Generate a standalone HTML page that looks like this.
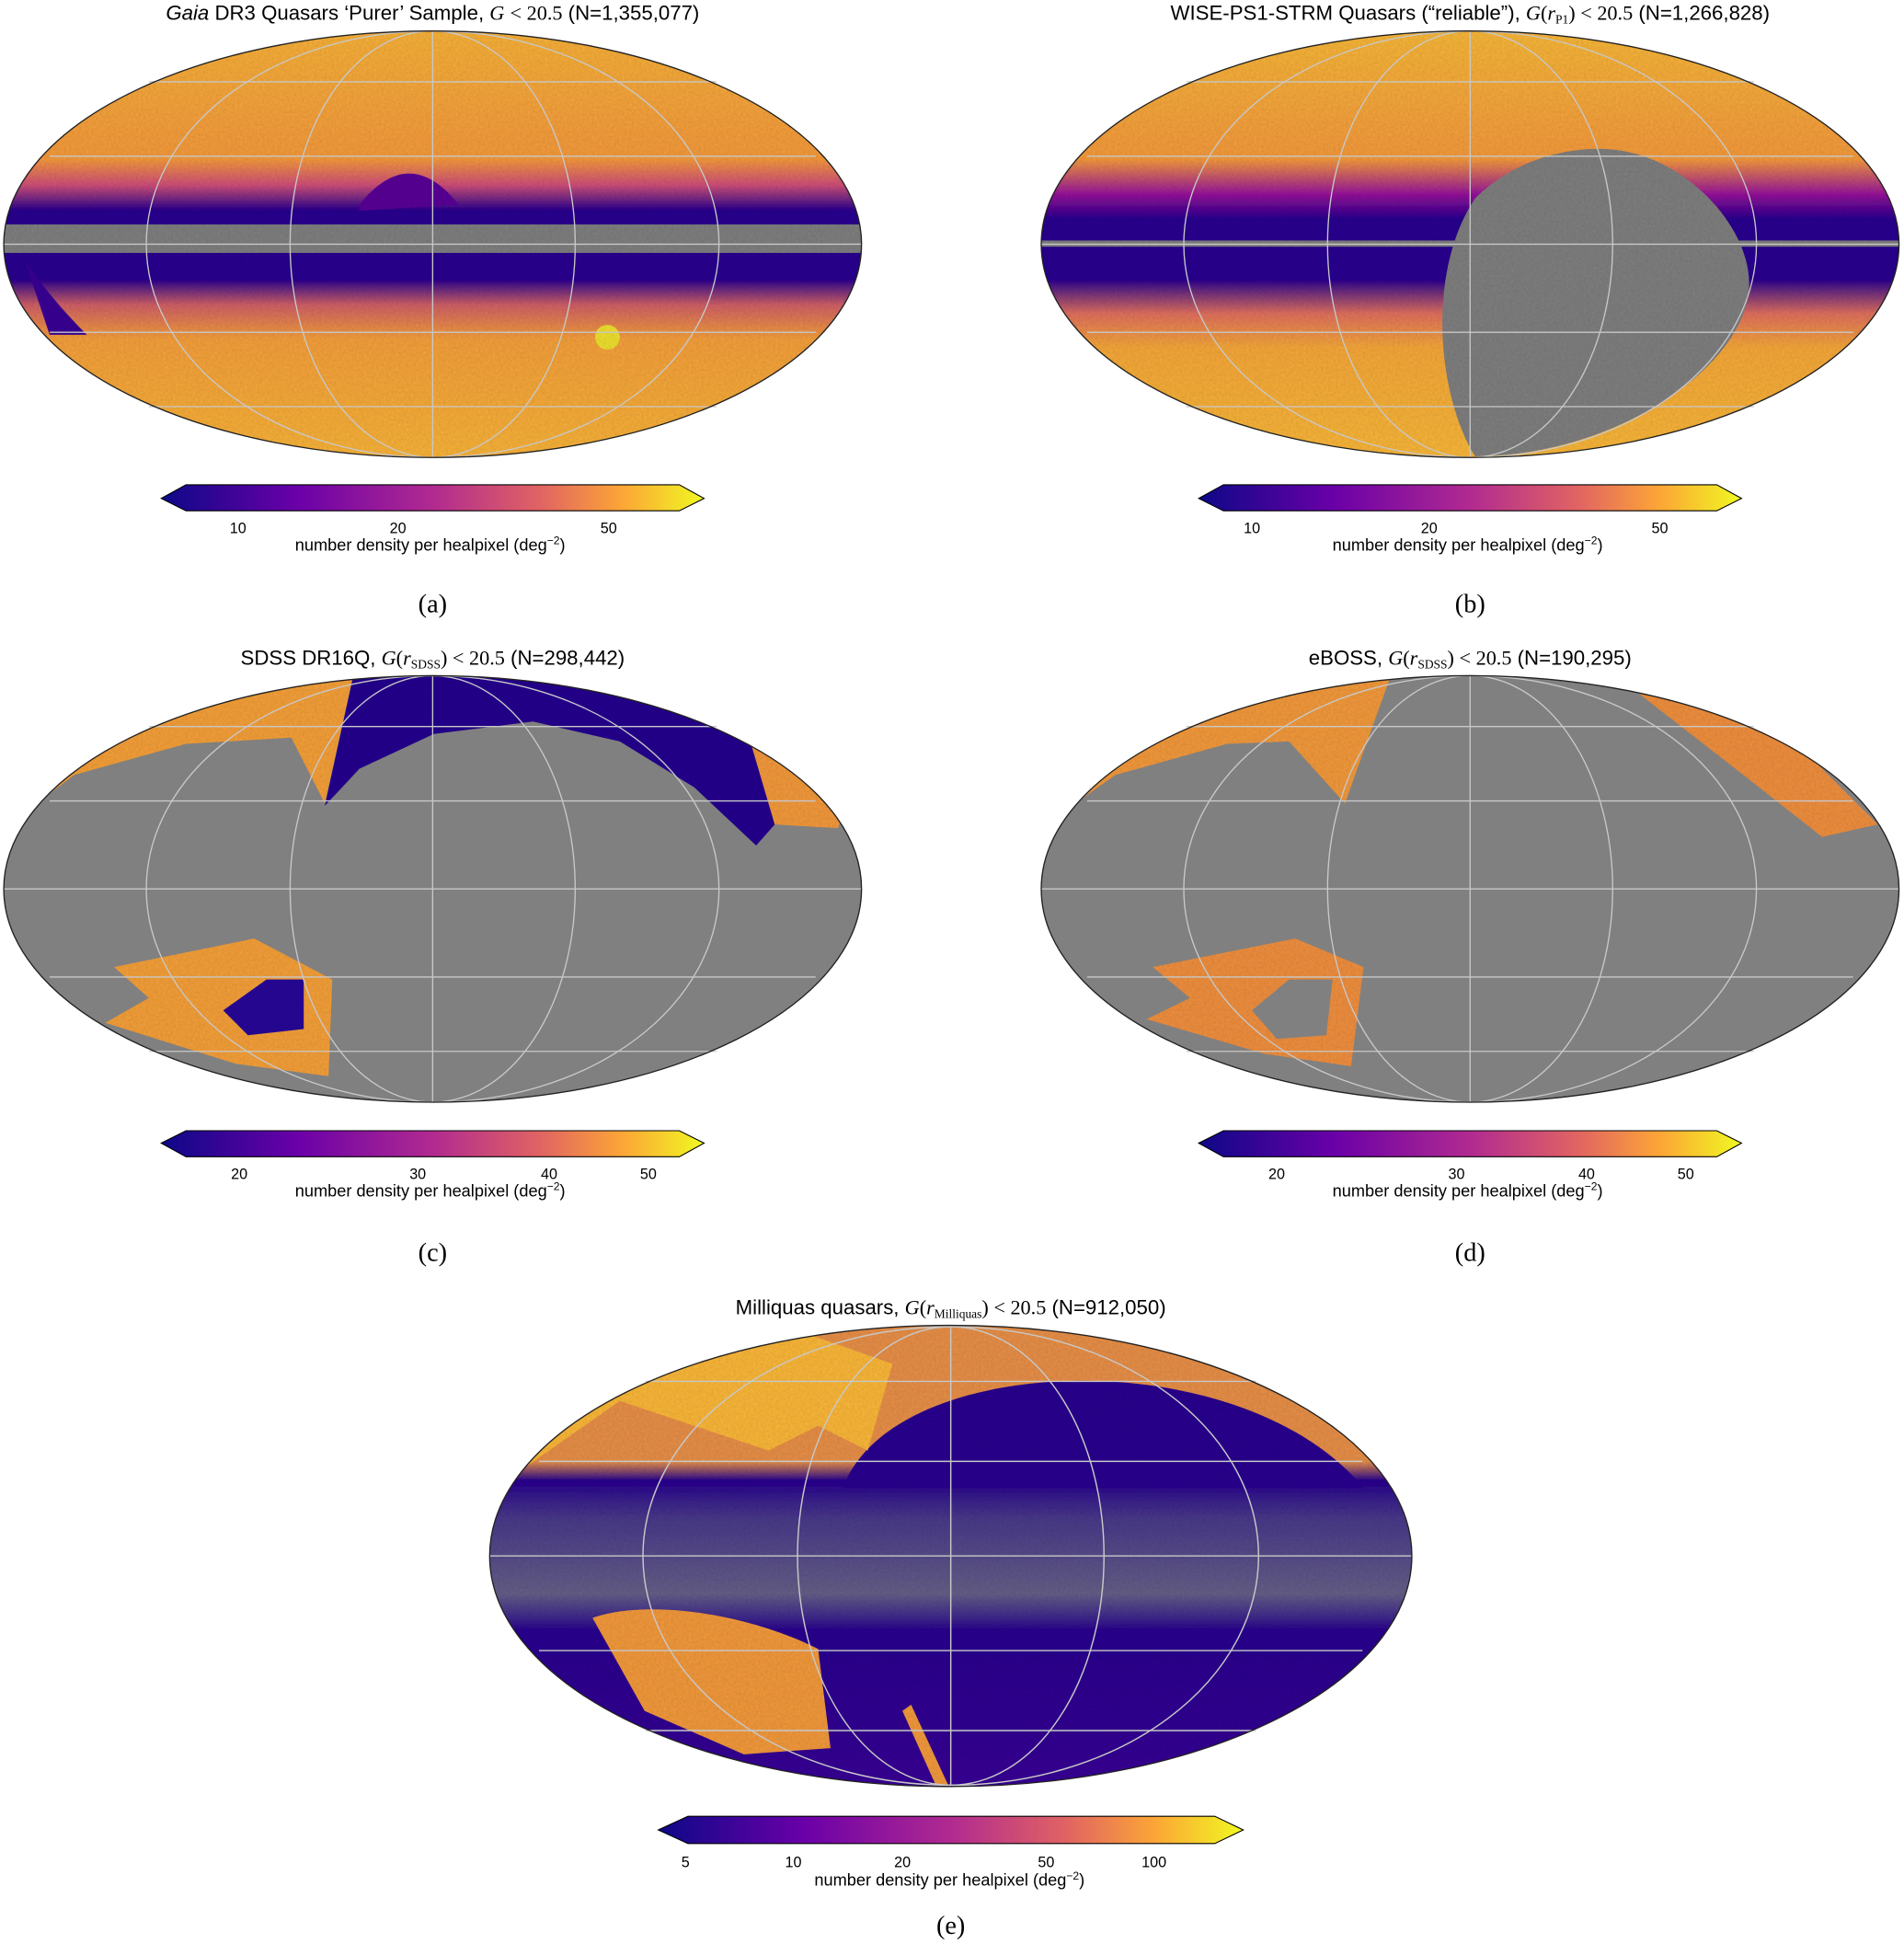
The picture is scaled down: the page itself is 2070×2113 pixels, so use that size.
<!DOCTYPE html>
<html><head><meta charset="utf-8"><style>
html,body{margin:0;padding:0;background:#fff;}
svg{display:block;}
text{font-family:"Liberation Sans",sans-serif;fill:#000;}
.s{font-family:"Liberation Serif",serif;}
</style></head><body>
<svg width="2070" height="2113" viewBox="0 0 1536 1568" xmlns="http://www.w3.org/2000/svg">
<defs>
<linearGradient id="pl" x1="0" x2="1" y1="0" y2="0">
<stop offset="0" stop-color="#0d0887"/><stop offset="0.25" stop-color="#6a00a8"/><stop offset="0.5" stop-color="#b12a90"/><stop offset="0.7" stop-color="#e16462"/><stop offset="0.85" stop-color="#fca636"/><stop offset="1" stop-color="#f0f921"/>
</linearGradient>
<linearGradient id="va" x1="0" x2="0" y1="0" y2="1">
<stop offset="0" stop-color="#f8b23a"/><stop offset="0.3" stop-color="#f59a3e"/><stop offset="0.36" stop-color="#d0507a"/><stop offset="0.42" stop-color="#2a0890"/><stop offset="0.58" stop-color="#2a0890"/><stop offset="0.64" stop-color="#d06068"/><stop offset="0.72" stop-color="#f5a03c"/><stop offset="1" stop-color="#f9b43a"/>
</linearGradient>
<linearGradient id="vb" x1="0" x2="0" y1="0" y2="1">
<stop offset="0" stop-color="#f8b83a"/><stop offset="0.3" stop-color="#f59a3e"/><stop offset="0.38" stop-color="#9a1a9a"/><stop offset="0.44" stop-color="#2a0890"/><stop offset="0.58" stop-color="#2a0890"/><stop offset="0.66" stop-color="#e07060"/><stop offset="0.74" stop-color="#f6a83a"/><stop offset="1" stop-color="#f9b83a"/>
</linearGradient>
<linearGradient id="ve" x1="0" x2="0" y1="0" y2="1">
<stop offset="0" stop-color="#e8904a"/><stop offset="0.3" stop-color="#e8904a"/><stop offset="0.34" stop-color="#2a0a8f"/><stop offset="0.42" stop-color="#4a3a8a"/><stop offset="0.58" stop-color="#666088"/><stop offset="0.66" stop-color="#2a0a8f"/><stop offset="1" stop-color="#3a0a95"/>
</linearGradient>
<filter id="n" x="0" y="0" width="100%" height="100%"><feTurbulence type="fractalNoise" baseFrequency="0.5" numOctaves="1" result="t"/><feColorMatrix in="t" type="matrix" values="0 0 0 0 0  0 0 0 0 0  0 0 0 0 0  0 0 0 0.25 0" result="a"/><feComposite in="a" in2="SourceGraphic" operator="in" result="b"/><feMerge><feMergeNode in="SourceGraphic"/><feMergeNode in="b"/></feMerge></filter>
<clipPath id="ca"><ellipse cx="349" cy="197" rx="346" ry="172"/></clipPath>
<clipPath id="cb"><ellipse cx="1186" cy="197" rx="346" ry="172"/></clipPath>
<clipPath id="cc"><ellipse cx="349" cy="717" rx="346" ry="172"/></clipPath>
<clipPath id="cd"><ellipse cx="1186" cy="717" rx="346" ry="172"/></clipPath>
<clipPath id="ce"><ellipse cx="767" cy="1255" rx="372" ry="186"/></clipPath>
</defs>

<!-- Panel a -->
<g clip-path="url(#ca)" filter="url(#n)">
<rect x="0" y="25" width="700" height="345" fill="url(#va)"/>
<rect x="0" y="181" width="700" height="23" fill="#808080"/>
<path d="M290,165 Q330,115 370,165 L290,170Z" fill="#5a1098"/>
<path d="M20,210 Q40,240 70,270 L40,270Z" fill="#3a0a95"/>
<circle cx="490" cy="272" r="10" fill="#f0e030"/>
</g>
<!-- Panel b -->
<g clip-path="url(#cb)" filter="url(#n)">
<rect x="836" y="25" width="700" height="345" fill="url(#vb)"/>
<rect x="836" y="194" width="700" height="5" fill="#808080"/>
<path d="M1290,120 C1360,120 1420,190 1410,240 C1400,300 1300,368 1190,368 C1160,320 1150,220 1190,160 C1220,130 1260,120 1290,120Z" fill="#808080"/>
</g>
<!-- Panel c -->
<g clip-path="url(#cc)">
<rect x="0" y="540" width="700" height="355" fill="#808080"/>
<path d="M0,670 L60,625 L150,600 L235,595 L262,648 L285,545 L150,560 L60,600 L20,640Z" fill="#f5a03a" filter="url(#n)"/>
<path d="M262,650 L290,620 L350,592 L430,582 L500,598 L560,635 L610,682 L625,665 L600,580 L500,545 L285,545Z" fill="#25078f" filter="url(#n)"/>
<path d="M560,555 L700,600 L676,668 L625,665 L600,580Z" fill="#f39a3e" filter="url(#n)"/>
<path d="M92,780 L205,757 L268,790 L265,868 L190,858 L85,825 L120,805Z" fill="#f5a03a" filter="url(#n)"/>
<path d="M180,815 L215,790 L245,790 L245,830 L200,835Z" fill="#25078f"/>
</g>
<!-- Panel d -->
<g clip-path="url(#cd)">
<rect x="836" y="540" width="700" height="355" fill="#808080"/>
<path d="M836,670 L900,625 L990,600 L1040,598 L1085,648 L1122,545 L980,560 L880,620Z" fill="#f39a3e" filter="url(#n)"/>
<path d="M1310,550 L1440,590 L1515,665 L1470,675 L1400,620Z" fill="#f09040" filter="url(#n)"/>
<path d="M930,780 L1045,757 L1100,780 L1090,860 L1020,850 L925,822 L960,805Z" fill="#f09040" filter="url(#n)"/>
<path d="M1010,815 L1040,790 L1075,790 L1070,835 L1030,838Z" fill="#808080"/>
</g>
<!-- Panel e -->
<g clip-path="url(#ce)" filter="url(#n)">
<rect x="390" y="1065" width="760" height="380" fill="url(#ve)"/>
<path d="M680,1200 C720,1090 1000,1080 1100,1200 Z" fill="#2a0a8f"/>
<path d="M400,1200 L500,1130 L620,1170 L660,1150 L700,1170 L720,1100 L620,1065 L400,1065Z" fill="#fbb83a"/>
<path d="M478,1305 C520,1290 600,1300 660,1330 L670,1410 L600,1415 L520,1380 Z" fill="#f39a3e"/>
<path d="M735,1375 L765,1440 L755,1440 L728,1380Z" fill="#f39a3e"/>
</g>

<!-- grids -->
<g fill="none" stroke="#c8c8c8" stroke-width="1">
<g id="ga">
<ellipse cx="349" cy="197" rx="115" ry="172"/><ellipse cx="349" cy="197" rx="231" ry="172"/>
<line x1="349" y1="25" x2="349" y2="369"/>
<line x1="3" y1="197" x2="695" y2="197"/>
<line x1="40" y1="126" x2="658" y2="126"/><line x1="40" y1="268" x2="658" y2="268"/>
<line x1="120" y1="66" x2="578" y2="66"/><line x1="120" y1="328" x2="578" y2="328"/>
</g>
<use href="#ga" x="837" y="0"/><use href="#ga" x="0" y="520"/><use href="#ga" x="837" y="520"/>
<g transform="translate(767,1255) scale(1.075) translate(-349,-197)"><use href="#ga"/></g>
</g>
<g fill="none" stroke="#222" stroke-width="1">
<ellipse cx="349" cy="197" rx="346" ry="172"/><ellipse cx="1186" cy="197" rx="346" ry="172"/>
<ellipse cx="349" cy="717" rx="346" ry="172"/><ellipse cx="1186" cy="717" rx="346" ry="172"/>
<ellipse cx="767" cy="1255" rx="372" ry="186"/>
</g>

<!-- colorbars -->
<g stroke="#000" stroke-width="0.8">
<path d="M130,402 L150,391 L548,391 L568,402 L548,412 L150,412Z" fill="url(#pl)"/>
<path d="M967,402 L987,391 L1385,391 L1405,402 L1385,412 L987,412Z" fill="url(#pl)"/>
<path d="M130,922 L150,912 L548,912 L568,922 L548,933 L150,933Z" fill="url(#pl)"/>
<path d="M967,922 L987,912 L1385,912 L1405,922 L1385,933 L987,933Z" fill="url(#pl)"/>
<path d="M531,1476 L555,1465 L980,1465 L1003,1476 L980,1487 L555,1487Z" fill="url(#pl)"/>
</g>

<g font-size="12" text-anchor="middle">
<text x="192" y="430">10</text><text x="321" y="430">20</text><text x="491" y="430">50</text>
<text x="1010" y="430">10</text><text x="1153" y="430">20</text><text x="1339" y="430">50</text>
<text x="193" y="951">20</text><text x="337" y="951">30</text><text x="443" y="951">40</text><text x="523" y="951">50</text>
<text x="1030" y="951">20</text><text x="1175" y="951">30</text><text x="1280" y="951">40</text><text x="1360" y="951">50</text>
<text x="553" y="1506">5</text><text x="640" y="1506">10</text><text x="728" y="1506">20</text><text x="844" y="1506">50</text><text x="931" y="1506">100</text>
</g>
<g font-size="13.5" text-anchor="middle">
<text x="347" y="444">number density per healpixel (deg<tspan dy="-5" font-size="9">−2</tspan><tspan dy="5">)</tspan></text>
<text x="1184" y="444">number density per healpixel (deg<tspan dy="-5" font-size="9">−2</tspan><tspan dy="5">)</tspan></text>
<text x="347" y="965">number density per healpixel (deg<tspan dy="-5" font-size="9">−2</tspan><tspan dy="5">)</tspan></text>
<text x="1184" y="965">number density per healpixel (deg<tspan dy="-5" font-size="9">−2</tspan><tspan dy="5">)</tspan></text>
<text x="766" y="1521">number density per healpixel (deg<tspan dy="-5" font-size="9">−2</tspan><tspan dy="5">)</tspan></text>
</g>
<g font-size="16.5" text-anchor="middle">
<text x="349" y="16"><tspan font-style="italic">Gaia</tspan> DR3 Quasars ‘Purer’ Sample, <tspan class="s" font-style="italic">G</tspan> <tspan class="s">&lt; 20.5</tspan> (N=1,355,077)</text>
<text x="1186" y="16">WISE-PS1-STRM Quasars (“reliable”), <tspan class="s" font-style="italic">G</tspan><tspan class="s">(<tspan font-style="italic">r</tspan><tspan font-size="10" dy="3">P1</tspan><tspan dy="-3">) &lt; 20.5</tspan></tspan> (N=1,266,828)</text>
<text x="349" y="536">SDSS DR16Q, <tspan class="s" font-style="italic">G</tspan><tspan class="s">(<tspan font-style="italic">r</tspan><tspan font-size="10" dy="3">SDSS</tspan><tspan dy="-3">) &lt; 20.5</tspan></tspan> (N=298,442)</text>
<text x="1186" y="536">eBOSS, <tspan class="s" font-style="italic">G</tspan><tspan class="s">(<tspan font-style="italic">r</tspan><tspan font-size="10" dy="3">SDSS</tspan><tspan dy="-3">) &lt; 20.5</tspan></tspan> (N=190,295)</text>
<text x="767" y="1060">Milliquas quasars, <tspan class="s" font-style="italic">G</tspan><tspan class="s">(<tspan font-style="italic">r</tspan><tspan font-size="10" dy="3">Milliquas</tspan><tspan dy="-3">) &lt; 20.5</tspan></tspan> (N=912,050)</text>
</g>
<g font-size="21" text-anchor="middle" class="s">
<text class="s" x="349" y="494">(a)</text><text class="s" x="1186" y="494">(b)</text>
<text class="s" x="349" y="1017">(c)</text><text class="s" x="1186" y="1017">(d)</text>
<text class="s" x="767" y="1560">(e)</text>
</g>
</svg>
</body></html>
